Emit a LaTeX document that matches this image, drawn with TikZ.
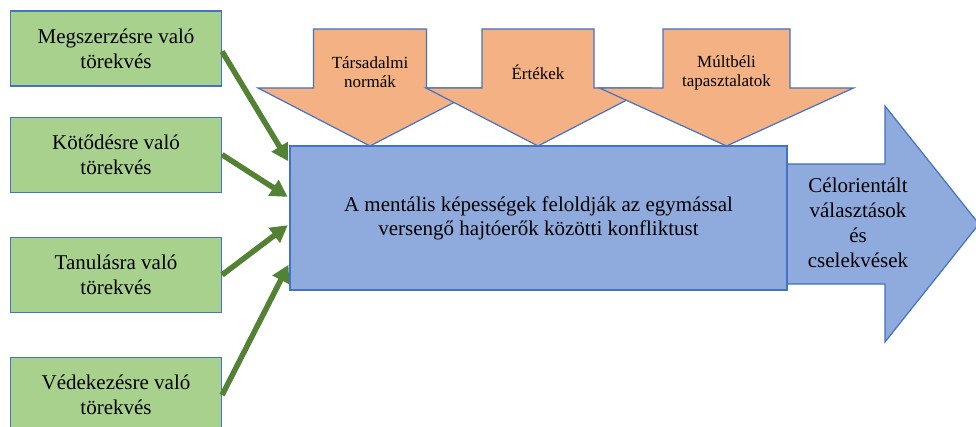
\documentclass[tikz,border=0pt]{standalone}
\usepackage{fontspec}
\setmainfont{Liberation Serif}
\usetikzlibrary{positioning,arrows.meta}

\definecolor{drivegreen}{HTML}{A9D18E}
\definecolor{edgeblue}{HTML}{4472C4}
\definecolor{inflorange}{HTML}{F4B183}
\definecolor{mindblue}{HTML}{8FAADC}
\definecolor{pushgreen}{HTML}{548235}

\begin{document}
\begin{tikzpicture}[x=1pt,y=1pt,
	drive/.style={draw=edgeblue,fill=drivegreen,line width=1.2pt,minimum width=211pt,minimum height=75pt,inner sep=0pt,align=center,font=\rmfamily\fontsize{21}{25}\selectfont},
	infl/.style={draw=edgeblue,fill=inflorange,line width=1.2pt},
	mind/.style={draw=edgeblue,fill=mindblue,line width=1.2pt},
	push/.style={draw=pushgreen,line width=5.5pt,shorten >=2pt,-{Triangle[length=17pt,width=18pt]}}]

	\useasboundingbox (0,0) rectangle (976,426);
	\clip (0,0) rectangle (976,426);

	% felso nyilak
	\foreach \cx/\bw/\hw/\nm/\lbl in {370/56.5/112/o1/{Társadalmi\\normák}, 538/56/112/o2/Értékek, 726.5/63.5/127/o3/{Múltbéli\\tapasztalatok}}
	{
		\draw[infl] (\cx-\bw,397) -- (\cx+\bw,397) -- (\cx+\bw,338) -- (\cx+\hw,338)
			-- (\cx,280) -- (\cx-\hw,338) -- (\cx-\bw,338) -- cycle;
		\node[align=center,font=\rmfamily\fontsize{17}{19}\selectfont] (\nm) at (\cx,353.5) {\lbl};
	}

	% kimeneti nyil
	\draw[mind] (787,262) -- (885,262) -- (885,320) -- (979,202) -- (885,84) -- (885,142) -- (787,142) -- cycle;
	\node[align=center,font=\rmfamily\fontsize{21}{25}\selectfont] (out) at (858,203)
		{Célorientált\\választások\\és\\cselekvések};

	\node[mind,minimum width=497pt,minimum height=144pt,align=center,font=\rmfamily\fontsize{21}{24}\selectfont] (main) at (538.5,208)
		{A mentális képességek feloldják az egymással\\versengő hajtóerők közötti konfliktust};

	\node[drive] (g1) at (116,377.5) {Megszerzésre való\\törekvés};
	\node[drive] (g2) [below=30pt of g1] {Kötődésre való\\törekvés};
	\node[drive] (g3) [below=44pt of g2] {Tanulásra való\\törekvés};
	\node[drive] (g4) [below=44pt of g3] {Védekezésre való\\törekvés};

	\draw[push] ([yshift=-3pt]g1.east) -- ([yshift=55pt]main.west);
	\draw[push] (g2.east) -- ([yshift=20pt]main.west);
	\draw[push] (g3.east) -- ([yshift=-6pt]main.west);
	\draw[push] (g4.east) -- ([yshift=-45pt]main.west);

\end{tikzpicture}
\end{document}
